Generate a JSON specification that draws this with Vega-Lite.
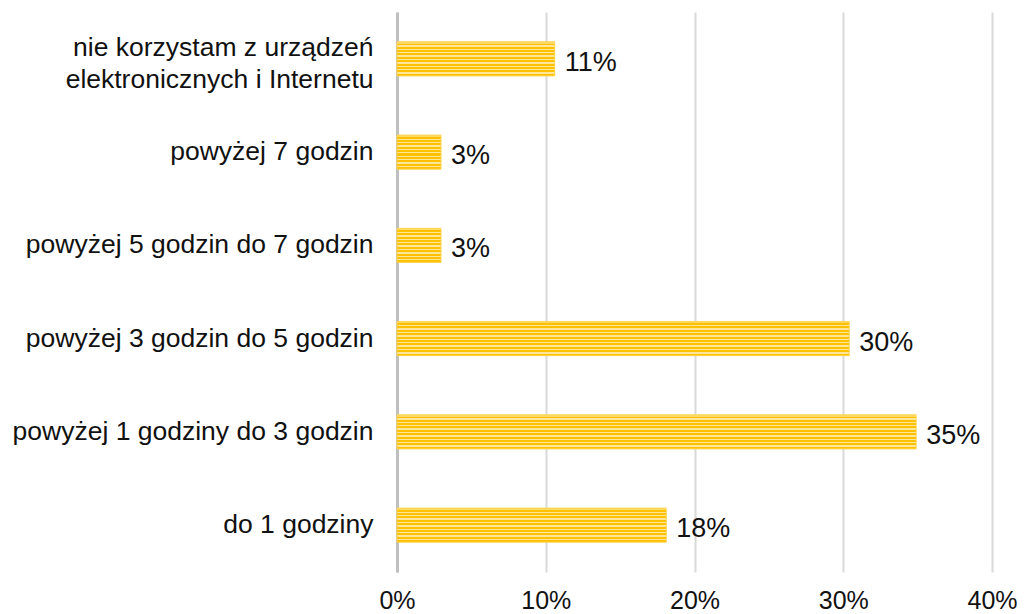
{
  "$schema": "https://vega.github.io/schema/vega-lite/v6.json",
  "width": 595,
  "height": 560,
  "autosize": "none",
  "padding": {"left": 397, "top": 12, "right": 32, "bottom": 42},
  "background": "white",
  "config": {"view": {"stroke": null}, "font": "Liberation Sans"},
  "data": {
    "values": [
      {"kat": "nie korzystam z urządzeń elektronicznych i Internetu", "v": 0.106},
      {"kat": "powyżej 7 godzin", "v": 0.0296},
      {"kat": "powyżej 5 godzin do 7 godzin", "v": 0.0296},
      {"kat": "powyżej 3 godzin do 5 godzin", "v": 0.304},
      {"kat": "powyżej 1 godziny do 3 godzin", "v": 0.349},
      {"kat": "do 1 godziny", "v": 0.181}
    ]
  },
  "encoding": {
    "y": {
      "field": "kat", "type": "nominal", "sort": null,
      "scale": {"paddingInner": 0.635, "paddingOuter": 0.32},
      "axis": {
        "title": null, "ticks": false, "domainColor": "#bfbfbf", "domainWidth": 3,
        "labelFontSize": 26.5, "labelColor": "#111", "labelPadding": 24, "labelLimit": 420,
        "labelLineHeight": 32,
        "labelOffset": {"condition": {"test": "datum.value == 'nie korzystam z urządzeń elektronicznych i Internetu'", "value": -11}, "value": 0},
        "labelExpr": "datum.value == 'nie korzystam z urządzeń elektronicznych i Internetu' ? ['nie korzystam z urządzeń', 'elektronicznych i Internetu'] : datum.value"
      }
    },
    "x": {
      "field": "v", "type": "quantitative",
      "scale": {"domain": [0, 0.4], "nice": false},
      "axis": {
        "title": null, "format": ".0%", "values": [0, 0.1, 0.2, 0.3, 0.4],
        "domain": false, "ticks": false, "grid": true, "gridColor": "#d9d9d9", "gridWidth": 2,
        "labelFontSize": 25, "labelColor": "#111", "labelPadding": 16, "labelFlush": false
      }
    }
  },
  "layer": [
    {
      "mark": {
        "type": "bar",
        "stroke": "#FFD44D", "strokeWidth": 1,
        "color": {
          "gradient": "linear", "x1": 0, "y1": 0, "x2": 0, "y2": 1,
          "stops": [
            {"offset": 0, "color": "#FFD966"}, {"offset": 0.05, "color": "#FFD966"},
            {"offset": 0.05, "color": "#FFC000"}, {"offset": 0.1, "color": "#FFC000"},
            {"offset": 0.1, "color": "#FFE699"}, {"offset": 0.14, "color": "#FFE699"},
            {"offset": 0.14, "color": "#FFC000"}, {"offset": 0.2, "color": "#FFC000"},
            {"offset": 0.2, "color": "#FFE699"}, {"offset": 0.24, "color": "#FFE699"},
            {"offset": 0.24, "color": "#FFC000"}, {"offset": 0.3, "color": "#FFC000"},
            {"offset": 0.3, "color": "#FFE699"}, {"offset": 0.34, "color": "#FFE699"},
            {"offset": 0.34, "color": "#FFC000"}, {"offset": 0.4, "color": "#FFC000"},
            {"offset": 0.4, "color": "#FFE699"}, {"offset": 0.44, "color": "#FFE699"},
            {"offset": 0.44, "color": "#FFC000"}, {"offset": 0.5, "color": "#FFC000"},
            {"offset": 0.5, "color": "#FFE699"}, {"offset": 0.54, "color": "#FFE699"},
            {"offset": 0.54, "color": "#FFC000"}, {"offset": 0.6, "color": "#FFC000"},
            {"offset": 0.6, "color": "#FFE699"}, {"offset": 0.64, "color": "#FFE699"},
            {"offset": 0.64, "color": "#FFC000"}, {"offset": 0.7, "color": "#FFC000"},
            {"offset": 0.7, "color": "#FFE699"}, {"offset": 0.74, "color": "#FFE699"},
            {"offset": 0.74, "color": "#FFC000"}, {"offset": 0.8, "color": "#FFC000"},
            {"offset": 0.8, "color": "#FFE699"}, {"offset": 0.84, "color": "#FFE699"},
            {"offset": 0.84, "color": "#FFC000"}, {"offset": 0.9, "color": "#FFC000"},
            {"offset": 0.9, "color": "#FFE699"}, {"offset": 0.94, "color": "#FFE699"},
            {"offset": 0.94, "color": "#FFC000"}, {"offset": 1, "color": "#FFC000"}
          ]
        }
      }
    },
    {
      "mark": {"type": "text", "align": "left", "baseline": "middle", "dx": 10, "dy": 4, "fontSize": 27, "color": "#111"},
      "encoding": {"text": {"field": "v", "type": "quantitative", "format": ".0%"}}
    }
  ]
}
